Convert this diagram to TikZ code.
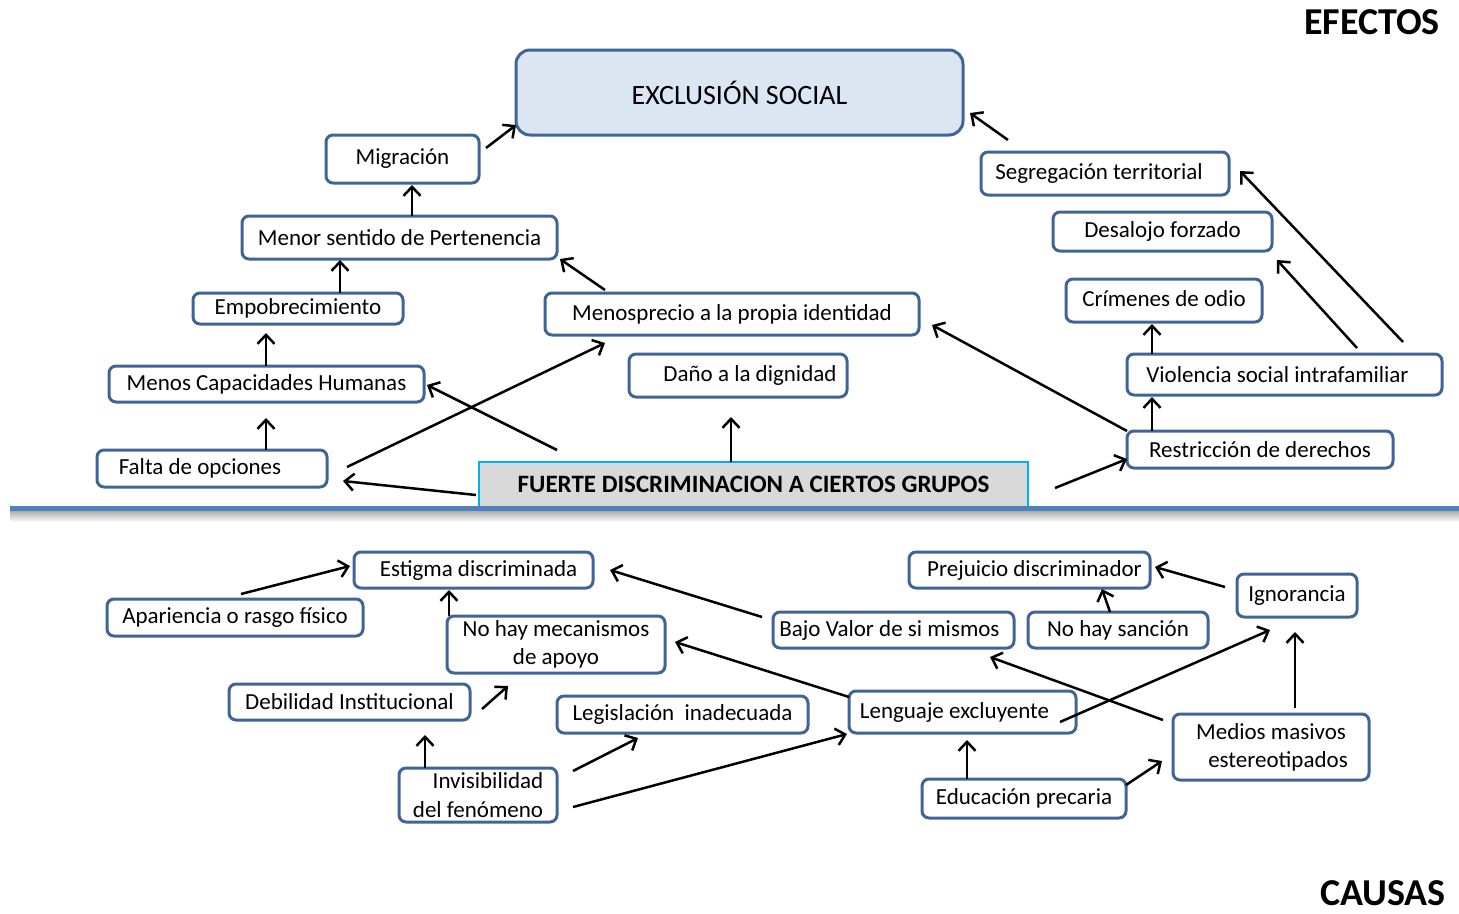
\documentclass[tikz,border=0pt]{standalone}
\usepackage{fontspec}
\setmainfont{Carlito}
\usetikzlibrary{arrows.meta,calc}
\definecolor{boxblue}{RGB}{65,100,150}
\definecolor{lightfill}{RGB}{220,230,242}
\definecolor{sepblue}{RGB}{79,129,189}
\definecolor{cyanb}{RGB}{0,176,240}
\definecolor{greyfill}{RGB}{217,217,217}
\newcommand\bx[7][]{\node[box,#1,minimum width={(#5-#3)*1pt},minimum height={(#6-#4)*1pt}] (#2) at ({(#3+#5)/2},{(#4+#6)/2}) {#7};}
\newcommand\dn[2]{\raisebox{-#1pt}{#2}}
\begin{document}
\begin{tikzpicture}[x=1pt,y=-1pt,
  box/.style={draw=boxblue,line width=3pt,rounded corners=7pt,fill=white,inner sep=0pt,
    font=\fontsize{23}{28}\selectfont,align=center},
  arr/.style={line width=2.5pt,-{Straight Barb[length=9pt,width=17pt]}},
  title/.style={font=\fontsize{38}{42}\selectfont\bfseries,inner sep=0pt}]
\useasboundingbox (0,0) rectangle (1459,913);
% ---------- EFECTOS ----------
\node[title] (efectos) at (1372,22) {EFECTOS};
\bx[fill=lightfill,rounded corners=14pt,font=\fontsize{28}{32}\selectfont]{excl}{516}{50}{963}{135}{\dn{5}{EXCLUSIÓN SOCIAL}}
\bx{mig}{326}{135}{479}{183}{Migración}
\bx{menor}{242}{216}{557}{259}{\dn{5}{Menor sentido de Pertenencia}}
\bx{empob}{193}{293}{403}{324}{\dn{3}{Empobrecimiento}}
\bx{menos}{109}{366}{424}{402}{Menos Capacidades Humanas}
\bx{falta}{97}{450}{327}{487}{Falta de opciones\hspace*{24pt}}
\bx{menosp}{545}{293}{919}{335}{\dn{5}{Menosprecio a la propia identidad}}
\bx{dano}{629}{354}{847}{397}{\hspace*{24pt}\dn{6}{Daño a la dignidad}}
\bx{segreg}{981}{152}{1229}{195}{\raisebox{3pt}{Segregación territorial}\hspace*{12pt}}
\bx{desalojo}{1053}{212}{1272}{251}{Desalojo forzado}
\bx{crimen}{1066}{279}{1262}{322}{\raisebox{3pt}{Crímenes de odio}}
\bx{viol}{1127}{354}{1442}{395}{\dn{6}{Violencia social intrafamiliar}\hspace*{14pt}}
\bx{restr}{1127}{431}{1393}{468}{\dn{4}{Restricción de derechos}}
\bx[draw=cyanb,line width=2pt,rounded corners=0pt,fill=greyfill,font=\fontsize{25}{29}\selectfont\bfseries]{fuerte}{479}{462}{1028}{507}{\dn{2}{FUERTE DISCRIMINACION A CIERTOS GRUPOS}}
% separator
\shade[top color=black!35,bottom color=white,draw=none] (10,510) rectangle (1459,522);
\draw[sepblue,line width=5pt] (10,508) -- (1459,508);
% top arrows
\draw[arr] ($(mig)+(83.5,-11)$) -- ($(excl)+(-223.5,32.5)$);
\draw[arr] ($(menor)+(12.5,-21.5)$) -- ($(mig)+(9.5,26)$);
\draw[arr] ($(empob)+(42,-15.5)$) -- ($(menor)+(-59.5,22.5)$);
\draw[arr] ($(menos)+(-0.5,-18)$) -- ($(empob)+(-32,24.5)$);
\draw[arr] ($(falta)+(54,-18.5)$) -- ($(menos)+(-0.5,34)$);
\draw[arr] ($(menosp)+(-127,-24)$) -- ($(menor)+(160.5,21.5)$);
\draw[arr] ($(segreg)+(-97,-33.5)$) -- ($(excl)+(230.5,20.5)$);
\draw[arr] ($(fuerte)+(-277.5,10.5)$) -- ($(falta)+(131,12.5)$);
\draw[arr] ($(falta)+(135,-1.5)$) -- ($(menosp)+(-127,29)$);
\draw[arr] ($(fuerte)+(-196.5,-34.5)$) -- ($(menos)+(160.5,1)$);
\draw[arr] ($(fuerte)+(-22.5,-22.5)$) -- ($(dano)+(-7,41.5)$);
\draw[arr] ($(restr)+(-133,-18.5)$) -- ($(menosp)+(200,11)$);
\draw[arr] ($(fuerte)+(301.5,3.5)$) -- ($(restr)+(-133,9.5)$);
\draw[arr] ($(restr)+(-108,-18.5)$) -- ($(viol)+(-132.5,22.5)$);
\draw[arr] ($(viol)+(-132.5,-20.5)$) -- ($(crimen)+(-12,23.5)$);
\draw[arr] ($(viol)+(72.5,-26.5)$) -- ($(desalojo)+(114.5,28.5)$);
\draw[arr] ($(viol)+(118.5,-32.5)$) -- ($(segreg)+(135,-2.5)$);
% ---------- CAUSAS ----------
\node[title] (causas) at (1383,893) {CAUSAS};
\bx{estigma}{354}{552}{593}{588}{\hspace*{10pt}\dn{4}{Estigma discriminada}}
\bx{apar}{107}{599}{363}{636}{Apariencia o rasgo físico}
\bx{mecan}{447}{616}{665}{673}{No hay mecanismos\\de apoyo}
\bx{debil}{229}{684}{470}{720}{Debilidad Institucional}
\bx{legis}{557}{696}{808}{733}{Legislación\ \ inadecuada}
\bx[font=\fontsize{23}{29}\selectfont]{invis}{399}{768}{557}{822}{\dn{3}{\hspace*{20pt}Invisibilidad}\\\dn{3}{del fenómeno}}
\bx{bajo}{773}{612}{1014}{648}{Bajo Valor de si mismos\hspace*{8pt}}
\bx{prej}{909}{552}{1150}{588}{\hspace*{10pt}\dn{4}{Prejuicio discriminador}}
\bx{sancion}{1028}{612}{1208}{648}{No hay sanción}
\bx{ignor}{1237}{574}{1357}{617}{\dn{2}{Ignorancia}}
\bx{lengu}{849}{691}{1076}{733}{\dn{3}{Lenguaje excluyente}\hspace*{16pt}}
\bx{medios}{1173}{714}{1369}{780}{Medios masivos\\\hspace*{14pt}estereotipados}
\bx{educ}{922}{779}{1126}{818}{Educación precaria}
% bottom arrows
\draw[arr] ($(apar)+(6,-23.5)$) -- ($(estigma)+(-123.5,-4)$);
\draw[arr] ($(mecan)+(-107,-28.5)$) -- ($(estigma)+(-24.5,20)$);
\draw[arr] ($(bajo)+(-131.5,-13)$) -- ($(estigma)+(136.5,0)$);
\draw[arr] ($(lengu)+(-113.5,-15)$) -- ($(mecan)+(119,-2.5)$);
\draw[arr] ($(debil)+(132.5,7)$) -- ($(mecan)+(-48,41.5)$);
\draw[arr] ($(invis)+(-53,-27)$) -- ($(debil)+(75.5,33)$);
\draw[arr] ($(invis)+(95,-24)$) -- ($(legis)+(-44.5,23.5)$);
\draw[arr] ($(invis)+(95,12)$) -- ($(lengu)+(-115.5,22)$);
\draw[arr] ($(sancion)+(-8,-18)$) -- ($(prej)+(72.5,19)$);
\draw[arr] ($(ignor)+(-72,-8.5)$) -- ($(prej)+(125.5,-3)$);
\draw[arr] ($(lengu)+(97.5,10)$) -- ($(ignor)+(-27,34.5)$);
\draw[arr] ($(medios)+(-108,-27)$) -- ($(bajo)+(96.5,27)$);
\draw[arr] ($(medios)+(24,-39)$) -- ($(ignor)+(-2,36.5)$);
\draw[arr] ($(educ)+(-57,-19.5)$) -- ($(lengu)+(4.5,28)$);
\draw[arr] ($(educ)+(102,-13.5)$) -- ($(medios)+(-109,14)$);
\end{tikzpicture}
\end{document}
